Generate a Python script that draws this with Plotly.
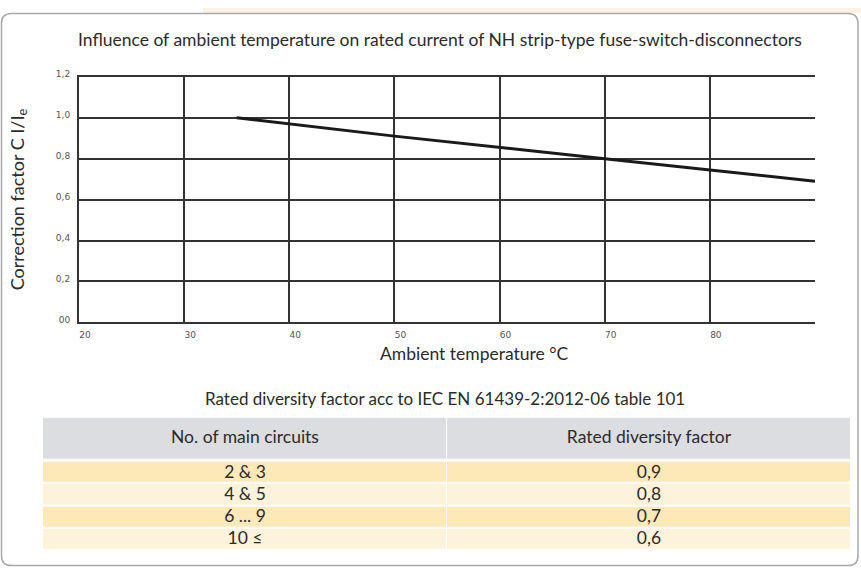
import plotly.graph_objects as go

# ---- data ----
temp_c = [35, 50, 70, 90]
correction = [1.0, 0.91, 0.80, 0.69]

x_tickvals = [20, 30, 40, 50, 60, 70, 80]
x_ticktext = ["20", "30", "40", "50", "60", "70", "80"]
y_tickvals = [0, 0.2, 0.4, 0.6, 0.8, 1.0, 1.2]
y_ticktext = ["00", "0,2", "0,4", "0,6", "0,8", "1,0", "1,2"]

circuits = ["2 & 3", "4 & 5", "6 ... 9", "10 ≤"]
diversity = ["0,9", "0,8", "0,7", "0,6"]
table_header = ["No. of main circuits", "Rated diversity factor"]

chart_title = "Influence of ambient temperature on rated current of NH strip-type fuse-switch-disconnectors"
table_title = "Rated diversity factor acc to IEC EN 61439-2:2012-06 table 101"
x_title = "Ambient temperature °C"
y_title = "Correction factor C I/I<sub>e</sub>"

W, H = 861, 571
def px(x):
    return x / W
def py(y):
    return 1 - y / H

FONT = "Lato, Noto Sans, sans-serif"
TXT = "#2b2b2b"

fig = go.Figure()

# ---- line chart ----
fig.add_trace(go.Scatter(
    x=temp_c, y=correction, mode="lines",
    line=dict(color="#1a1a1a", width=3),
    hoverinfo="skip", showlegend=False,
))

# ---- table drawn with bars on its own axes (y in pixel rows, reversed) ----
hdr_top, hdr_h = 417, 43
row_top0, pitch = 462, 22.6
n = len(circuits)
row_centers = [row_top0 + pitch * i + (pitch - 1) / 2 for i in range(n)]
row_fills = ["#fde8b8" if i % 2 == 0 else "#fdf2da" for i in range(n)]
centers = [hdr_top + hdr_h / 2] + row_centers
widths = [hdr_h] + [pitch - 1] * n
fills = ["#dcdde0"] + row_fills

for col in range(2):
    fig.add_trace(go.Bar(
        orientation="h", y=centers, x=[1] * (n + 1), base=[col] * (n + 1),
        width=widths, marker=dict(color=fills, line=dict(color="white", width=1)),
        xaxis="x2", yaxis="y2", hoverinfo="skip", showlegend=False,
    ))

col_texts = [circuits, diversity]
for col in range(2):
    fig.add_trace(go.Scatter(
        x=[col + 0.5] * (n + 1), y=[centers[0]] + [c + 1 for c in row_centers],
        mode="text", text=[table_header[col]] + col_texts[col],
        textfont=dict(family=FONT, size=17.5, color=TXT),
        xaxis="x2", yaxis="y2", hoverinfo="skip", showlegend=False,
    ))

fig.update_layout(
    width=W, height=H,
    margin=dict(l=0, r=0, t=0, b=0),
    paper_bgcolor="white", plot_bgcolor="rgba(0,0,0,0)",
    showlegend=False, barmode="overlay", bargap=0,
    xaxis=dict(
        domain=[px(79), px(815)], range=[20, 90],
        tickvals=x_tickvals, ticktext=x_ticktext,
        showgrid=True, gridcolor="#333333", gridwidth=2,
        showline=True, linecolor="#333333", linewidth=2, mirror=True,
        zeroline=False, ticks="",
        tickfont=dict(family="DejaVu Sans", size=9, color="#555555"),
        ticklabelshift=6, ticklabelstandoff=3,
        fixedrange=True,
    ),
    yaxis=dict(
        domain=[py(320), py(70)], range=[0, 1.2],
        tickvals=y_tickvals, ticktext=y_ticktext,
        showgrid=True, gridcolor="#333333", gridwidth=2,
        showline=True, linecolor="#333333", linewidth=2,
        zeroline=False, ticks="",
        tickfont=dict(family="DejaVu Sans", size=9, color="#555555"),
        ticklabelshift=-3, ticklabelstandoff=5,
        title=dict(text=y_title,
                   font=dict(family=FONT, size=18, color=TXT), standoff=27),
        fixedrange=True,
    ),
    xaxis2=dict(domain=[px(43), px(851)], range=[0, 2], anchor="y2",
                visible=False, fixedrange=True),
    yaxis2=dict(domain=[py(552), py(416)], range=[552, 416], anchor="x2",
                visible=False, fixedrange=True),
)

fig.add_annotation(text=chart_title, xref="paper", yref="paper",
                   x=px(440), y=py(32), xanchor="center", yanchor="middle",
                   showarrow=False, font=dict(family=FONT, size=17.5, color=TXT))
fig.add_annotation(text=x_title, xref="paper", yref="paper",
                   x=px(474), y=py(352), xanchor="center", yanchor="middle",
                   showarrow=False, font=dict(family=FONT, size=17.5, color=TXT))
fig.add_annotation(text=table_title, xref="paper", yref="paper",
                   x=px(445), y=py(397), xanchor="center", yanchor="middle",
                   showarrow=False, font=dict(family=FONT, size=17, color=TXT))

# peach strip above frame
fig.add_shape(type="rect", xref="paper", yref="paper",
              x0=px(203), x1=1, y0=py(5), y1=1,
              fillcolor="#fdf1e4", line=dict(width=0), layer="below")

# rounded frame
rx, ry = 10 / W, 10 / H
x0, x1 = px(1.5), px(858)
y0, y1 = py(567.5), py(5.5)
path = (f"M {x0+rx},{y1} L {x1-rx},{y1} Q {x1},{y1} {x1},{y1-ry} "
        f"L {x1},{y0+ry} Q {x1},{y0} {x1-rx},{y0} "
        f"L {x0+rx},{y0} Q {x0},{y0} {x0},{y0+ry} "
        f"L {x0},{y1-ry} Q {x0},{y1} {x0+rx},{y1} Z")
fig.add_shape(type="path", xref="paper", yref="paper", path=path,
              line=dict(color="#a8a8a8", width=1.5), fillcolor="rgba(0,0,0,0)")

fig.write_html("out.html", config={"displayModeBar": False},
               post_script="document.body.style.margin='0';document.body.style.overflow='hidden';")
